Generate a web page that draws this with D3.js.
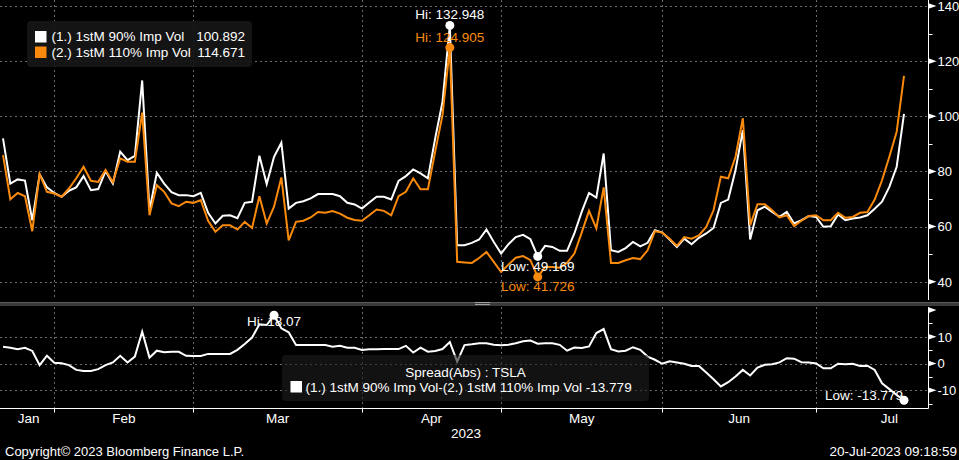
<!DOCTYPE html>
<html><head><meta charset="utf-8">
<script src="https://cdn.jsdelivr.net/npm/d3@7"></script>
<style>
html,body{margin:0;padding:0;background:#000;overflow:hidden;}
svg{display:block;}
text{font-family:"Liberation Sans",Arial,sans-serif;}
</style></head><body>
<svg id="c" width="959" height="460"></svg>
<script>
// ---------------- data ----------------
const seriesNames = ["(1.) 1stM 90% Imp Vol", "(2.) 1stM 110% Imp Vol"];
const vol90 = [92.0,75.6,77.1,76.7,62.3,79.0,74.2,72.2,70.8,73.0,74.2,78.3,73.2,73.6,80.1,75.6,87.2,84.1,85.6,113.0,
  65.9,79.5,75.6,72.5,71.4,71.4,71.0,72.2,65.0,61.1,63.9,64.1,63.0,68.6,69.0,85.7,75.4,85.3,90.4,66.5,
  68.6,69.2,70.2,71.8,71.8,71.8,71.0,68.6,68.0,66.5,68.7,70.8,70.8,69.8,76.6,78.3,80.7,79.3,77.5,92.0,
  105.3,132.948,53.2,53.2,54.1,55.3,58.9,54.4,50.2,53.6,56.2,57.0,55.4,49.169,53.0,52.6,51.2,51.2,57.5,65.3,
  72.2,70.5,86.5,51.4,50.8,52.2,54.4,52.8,54.1,58.7,57.8,55.3,52.6,55.6,53.6,55.9,57.5,59.5,68.6,69.8,
  80.5,95.0,55.3,65.9,67.2,65.3,63.5,65.3,61.1,62.3,63.8,63.5,59.9,60.1,64.4,62.3,62.9,63.3,64.1,66.5,
  69.0,74.4,81.7,100.892];
const vol110 = [85.9,69.9,72.2,71.0,58.3,79.0,72.6,72.0,70.8,73.8,77.5,81.7,76.6,76.2,80.5,76.1,84.7,83.5,83.5,101.3,
  64.1,75.0,72.6,68.4,67.4,69.0,68.6,69.6,62.1,58.1,60.5,60.5,58.9,61.7,59.5,71.0,61.1,67.2,77.8,55.0,
  61.7,62.1,63.3,65.3,65.0,65.6,64.7,63.2,62.4,62.1,64.1,66.2,65.7,64.1,71.0,72.6,77.5,73.5,73.5,87.2,
  100.5,124.905,47.2,47.0,46.8,48.6,50.8,47.2,43.5,46.2,48.7,49.3,47.8,41.726,45.3,45.3,45.1,46.8,50.2,57.8,
  65.7,59.3,74.2,46.8,46.8,47.8,48.6,48.2,51.4,58.3,57.8,55.6,53.0,56.2,55.6,56.8,59.9,65.9,78.1,77.5,
  85.3,99.3,60.5,68.1,68.1,65.9,63.3,64.1,60.2,62.1,63.8,64.1,62.3,62.3,65.0,63.2,63.5,65.0,65.3,69.8,
  76.8,85.3,94.4,114.671];
const spread = [6.3,5.9,5.3,5.9,4.7,-0.6,2.9,0.3,0.1,-0.6,-2.4,-2.8,-2.8,-2.1,-0.6,0.4,2.9,0.4,2.6,11.9,
  2.2,4.8,4.2,4.4,4.4,2.9,2.8,2.8,3.6,3.6,3.6,3.6,5.1,7.3,9.7,14.7,14.4,18.07,13.2,11.7,
  6.9,6.9,6.9,6.9,6.9,6.3,6.6,5.9,5.9,5.1,5.3,5.3,5.4,5.4,5.4,6.6,4.1,5.9,4.4,4.7,
  5.4,8.04,0.7,6.9,7.2,7.6,7.6,7.0,6.8,7.0,7.6,8.3,8.6,7.44,7.6,7.6,7.0,4.8,6.0,5.8,
  6.4,11.4,12.9,5.4,4.5,4.8,6.1,5.1,2.6,1.4,-0.1,0.8,0.4,-0.1,-0.9,-0.9,-3.4,-5.9,-8.6,-7.0,
  -4.9,-2.4,-4.5,-1.5,-0.5,-0.3,0.4,2.0,1.8,0.5,0.4,0,-1.8,-1.8,-0.1,-0.3,-0.1,-0.9,-0.8,-2.4,
  -7.4,-9.6,-11.8,-13.779];
const monthLabels = ["Jan","Feb","Mar","Apr","May","Jun","Jul"];
const monthBounds = [0,7,26,49,68,90,111,131]; // trading-day index where each month starts
const upperTicks = [40,60,80,100,120,140];
const upperMinor = [50,70,90,110,130];
const lowerTicks = [-10,0,10,20];
const lowerLabels = [-10,0,10];
const lowerMinor = [-15,-5,5,15];
const yearLabel = "2023";
const spreadTitle = "Spread(Abs) : TSLA";
const spreadName = "(1.) 1stM 90% Imp Vol-(2.) 1stM 110% Imp Vol";
const copyright = "Copyright\u00A9 2023 Bloomberg Finance L.P.";
const stamp = "20-Jul-2023 09:18:59";

// ---------------- layout ----------------
const W = 959, H = 460;
const axisX = 928.5;
const WHITE = "#ffffff", ORANGE = "#fa8a0c", GRID = "#6a6a6a";
const FS = "13.5px";
const f3 = v => v.toFixed(3);
const f2 = v => v.toFixed(2);
const svg = d3.select("#c");
svg.append("rect").attr("width",W).attr("height",H).attr("fill","#000");

const x = d3.scaleLinear().domain([0, vol90.length-1]).range([3, 904]);
const yU = d3.scaleLinear().domain([40,140]).range([281.7, 6]);
const yL = d3.scaleLinear().domain([-10,10]).range([390.2, 336.8]);
const U = {top:0, bottom:300};
const L = {top:307, bottom:408.5};

function dashedH(g, yy, x0, x1){
  g.append("line").attr("x1",x0).attr("x2",x1).attr("y1",yy).attr("y2",yy)
   .attr("stroke",GRID).attr("stroke-width",1).attr("stroke-dasharray","2,3");
}
function dashedV(g, xx, y0, y1){
  g.append("line").attr("x1",xx).attr("x2",xx).attr("y1",y0).attr("y2",y1)
   .attr("stroke",GRID).attr("stroke-width",1).attr("stroke-dasharray","2,3");
}

// grids
const grid = svg.append("g");
upperTicks.forEach(v => dashedH(grid, Math.round(yU(v))+0.5, 0, axisX));
lowerTicks.filter(v=>v<20).forEach(v => dashedH(grid, Math.round(yL(v))+0.5, 0, axisX));
monthBounds.slice(1,-1).forEach(b => {
  const xx = Math.round(x(b))+0.5;
  dashedV(grid, xx, U.top, U.bottom);
  dashedV(grid, xx, L.top, L.bottom);
});

// clip
const defs = svg.append("defs");
defs.append("clipPath").attr("id","cu").append("rect").attr("x",0).attr("y",U.top).attr("width",axisX).attr("height",U.bottom-U.top);
defs.append("clipPath").attr("id","cl").append("rect").attr("x",0).attr("y",L.top).attr("width",axisX).attr("height",L.bottom-L.top);

// upper legend box (behind lines)
const lg = svg.append("g");
lg.append("rect").attr("x",27).attr("y",21).attr("width",225).attr("height",46).attr("rx",4)
  .attr("fill","rgba(22,22,22,0.9)");

// lines upper
const lineU = d3.line().x((d,i)=>x(i)).y(d=>yU(d));
const gu = svg.append("g").attr("clip-path","url(#cu)");
gu.append("path").datum(vol90).attr("d",lineU).attr("fill","none").attr("stroke",WHITE).attr("stroke-width",2);
gu.append("path").datum(vol110).attr("d",lineU).attr("fill","none").attr("stroke",ORANGE).attr("stroke-width",2);

// lines lower
const lineL = d3.line().x((d,i)=>x(i)).y(d=>yL(d));
const gl = svg.append("g").attr("clip-path","url(#cl)");
gl.append("path").datum(spread).attr("d",lineL).attr("fill","none").attr("stroke",WHITE).attr("stroke-width",2);

// legend text upper
const legRows = [{name:seriesNames[0], v:vol90[vol90.length-1], c:WHITE},
                 {name:seriesNames[1], v:vol110[vol110.length-1], c:ORANGE}];
legRows.forEach((r,k)=>{
  const cy = 36.5 + k*15.5;
  lg.append("rect").attr("x",35).attr("y",cy-5.5).attr("width",11.5).attr("height",11.5).attr("fill",r.c);
  lg.append("text").attr("x",51.5).attr("y",cy+4.8).attr("fill","#fff").attr("font-size",FS).text(r.name);
  lg.append("text").attr("x",245).attr("y",cy+4.8).attr("fill","#fff").attr("font-size",FS)
    .attr("text-anchor","end").text(f3(r.v));
});

// lower legend box (semi-transparent, above line)
const ll = svg.append("g");
ll.append("rect").attr("x",282).attr("y",355).attr("width",367).attr("height",46).attr("rx",4)
  .attr("fill","rgba(30,30,30,0.6)");
ll.append("text").attr("x",465.5).attr("y",376.5).attr("fill","#fff").attr("font-size",FS)
  .attr("text-anchor","middle").text(spreadTitle);
ll.append("rect").attr("x",290.5).attr("y",381).attr("width",11.5).attr("height",11.5).attr("fill",WHITE);
ll.append("text").attr("x",305.5).attr("y",392).attr("fill","#fff").attr("font-size",FS)
  .text(spreadName + " " + f3(spread[spread.length-1]));

// hi / low markers
function marker(g, cx, cy, col){
  g.append("circle").attr("cx",cx).attr("cy",cy).attr("r",4.5).attr("fill",col);
}
const mk = svg.append("g");
const hi90 = d3.maxIndex(vol90), lo90 = d3.minIndex(vol90);
const hi110 = d3.maxIndex(vol110), lo110 = d3.minIndex(vol110);
const hiS = d3.maxIndex(spread), loS = d3.minIndex(spread);
[[hi90,vol90,WHITE,-6.5,"Hi: "],[hi110,vol110,ORANGE,-6,"Hi: "]].forEach(([i,arr,c,dy,p])=>{
  marker(mk, x(i), yU(arr[i]), c);
  mk.append("text").attr("x",x(i)).attr("y",yU(arr[i])+dy).attr("fill",c).attr("font-size",FS)
    .attr("text-anchor","middle").text(p+f3(arr[i]));
});
[[lo90,vol90,WHITE,14.5,"Low: "],[lo110,vol110,ORANGE,13.8,"Low: "]].forEach(([i,arr,c,dy,p])=>{
  marker(mk, x(i), yU(arr[i]), c);
  mk.append("text").attr("x",x(i)).attr("y",yU(arr[i])+dy).attr("fill",c).attr("font-size",FS)
    .attr("text-anchor","middle").text(p+f3(arr[i]));
});
marker(mk, x(hiS), yL(spread[hiS]), WHITE);
mk.append("text").attr("x",x(hiS)).attr("y",yL(spread[hiS])+11).attr("fill","#fff").attr("font-size",FS)
  .attr("text-anchor","middle").text("Hi: "+f2(spread[hiS]));
marker(mk, x(loS), yL(spread[loS]), WHITE);
mk.append("text").attr("x",x(loS)-1).attr("y",yL(spread[loS])-0.5).attr("fill","#fff").attr("font-size",FS)
  .attr("text-anchor","end").text("Low: "+f3(spread[loS]));

// separator bar
const sep = svg.append("g");
sep.append("rect").attr("x",0).attr("y",302).attr("width",W).attr("height",4).attr("fill","#3a3a3a");
sep.append("line").attr("x1",0).attr("x2",W).attr("y1",302.5).attr("y2",302.5).attr("stroke","#5c5c5c");
[302.5,304.5].forEach(yy=>sep.append("line").attr("x1",475).attr("x2",490).attr("y1",yy).attr("y2",yy).attr("stroke","#a0a0a0"));

// axes
const ax = svg.append("g");
ax.append("line").attr("x1",axisX).attr("x2",axisX).attr("y1",U.top).attr("y2",U.bottom).attr("stroke","#fff");
ax.append("line").attr("x1",axisX).attr("x2",axisX).attr("y1",L.top).attr("y2",L.bottom).attr("stroke","#fff");
ax.append("line").attr("x1",0).attr("x2",axisX).attr("y1",L.bottom).attr("y2",L.bottom).attr("stroke","#fff");
function arrow(yy){
  ax.append("path").attr("d",`M${axisX},${yy-2.8}L${axisX+8},${yy}L${axisX},${yy+2.8}Z`).attr("fill","#fff");
}
function minor(yy){
  ax.append("line").attr("x1",axisX).attr("x2",axisX+4).attr("y1",yy).attr("y2",yy).attr("stroke","#fff");
}
upperTicks.forEach(v=>{
  const yy = yU(v); arrow(yy);
  ax.append("text").attr("x",937.5).attr("y",yy+4.8).attr("fill","#fff").attr("font-size","13px").text(String(v));
});
upperMinor.forEach(v=>minor(Math.round(yU(v))+0.5));
lowerTicks.forEach(v=>arrow(yL(v)));
lowerLabels.forEach(v=>{
  ax.append("text").attr("x",937.5).attr("y",yL(v)+4.8).attr("fill","#fff").attr("font-size","13px").text(String(v));
});
lowerMinor.forEach(v=>minor(Math.round(yL(v))+0.5));

// x ticks & month labels
monthBounds.slice(1,-1).forEach(b=>{
  const xx = Math.round(x(b))+0.5;
  ax.append("line").attr("x1",xx).attr("x2",xx).attr("y1",L.bottom).attr("y2",L.bottom+4).attr("stroke","#fff");
});
monthLabels.forEach((m,k)=>{
  const cx = x((monthBounds[k]+monthBounds[k+1])/2);
  ax.append("text").attr("x",cx).attr("y",423).attr("fill","#fff").attr("font-size",FS)
    .attr("text-anchor","middle").text(m);
});
ax.append("text").attr("x",466).attr("y",438).attr("fill","#fff").attr("font-size",FS)
  .attr("text-anchor","middle").text(yearLabel);

// footer
svg.append("text").attr("x",5).attr("y",456).attr("fill","#fff").attr("font-size","13px").text(copyright);
svg.append("text").attr("x",957).attr("y",456).attr("fill","#fff").attr("font-size","13.5px")
  .attr("text-anchor","end").text(stamp);
</script>
</body></html>
